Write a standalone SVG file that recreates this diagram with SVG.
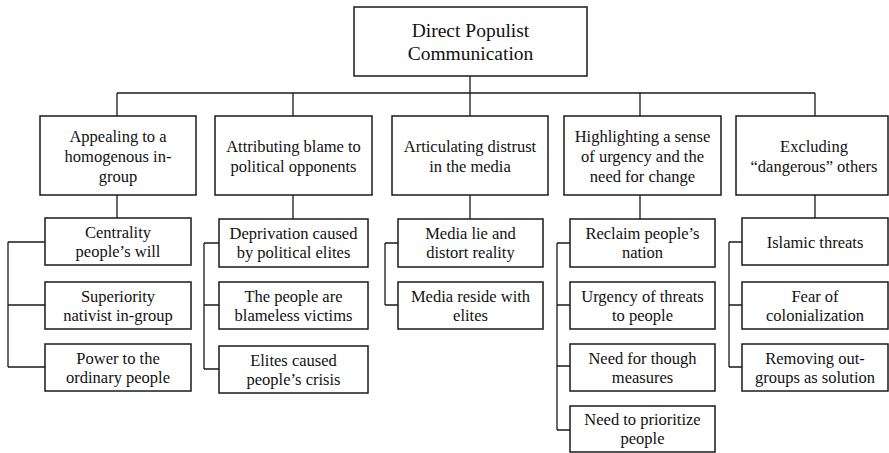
<svg xmlns="http://www.w3.org/2000/svg" width="889" height="453" viewBox="0 0 889 453">
<style>
rect{fill:#fff;stroke:#1a1a1a;stroke-width:1.5}
text{font-family:'Liberation Serif','Times New Roman','DejaVu Serif',serif;font-size:16.5px;fill:#111;text-anchor:middle}
.root text{font-size:19.5px}
#connectors path{fill:none;stroke:#1a1a1a;stroke-width:1.3}
</style>
<rect x="0" y="0" width="889" height="453" style="fill:#fff;stroke:none"/>
<g id="connectors">
<path d="M470,76V93M117,93H815M117,93V116M293,93V116M470,93V116M640,93V116M815,93V116"/>
<path d="M117,195V218M8,242H45M8,305H45M8,367H45M8,242V367"/>
<path d="M293,195V219M204,243H219M204,305H219M204,369H219M204,243V369"/>
<path d="M470,195V219M385,243H398M385,305H398M385,243V305"/>
<path d="M640,195V219M557,243H570M557,305H570M557,366H570M557,430H570M557,243V430"/>
<path d="M815,195V218M729,242H742M729,305H742M729,367H742M729,242V367"/>
</g>
<g font-family="Liberation Serif, serif">
<g id="root" class="root"><rect x="354" y="7" width="233" height="69"/><text x="470.5" y="37">Direct Populist</text><text x="470.5" y="60">Communication</text></g>
<g id="c1"><rect x="40" y="116" width="156" height="79"/><text x="118" y="142">Appealing to a</text><text x="118" y="162">homogenous in-</text><text x="118" y="182">group</text></g>
<g id="c2"><rect x="215" y="116" width="157" height="79"/><text x="293.5" y="152">Attributing blame to</text><text x="293.5" y="172">political  opponents</text></g>
<g id="c3"><rect x="392" y="116" width="156" height="79"/><text x="470" y="152">Articulating distrust</text><text x="470" y="172">in the media</text></g>
<g id="c4"><rect x="564" y="116" width="157" height="79"/><text x="642.5" y="142">Highlighting  a sense</text><text x="642.5" y="162">of urgency and the</text><text x="642.5" y="182">need for change</text></g>
<g id="c5"><rect x="736" y="116" width="152" height="79"/><text x="814" y="152">Excluding</text><text x="814" y="172">“dangerous” others</text></g>
<g id="c1a"><rect x="45" y="218" width="146" height="47"/><text x="118" y="238">Centrality</text><text x="118" y="257">people’s will</text></g>
<g id="c1b"><rect x="45" y="282" width="146" height="47"/><text x="118" y="302">Superiority</text><text x="118" y="321">nativist in-group</text></g>
<g id="c1c"><rect x="45" y="344" width="146" height="47"/><text x="118" y="364">Power to the</text><text x="118" y="383">ordinary people</text></g>
<g id="c2a"><rect x="219" y="219" width="149" height="48"/><text x="293.5" y="239">Deprivation caused</text><text x="293.5" y="258">by  political  elites</text></g>
<g id="c2b"><rect x="219" y="282" width="149" height="47"/><text x="293.5" y="302">The people are</text><text x="293.5" y="321">blameless victims</text></g>
<g id="c2c"><rect x="219" y="346" width="149" height="47"/><text x="293.5" y="366">Elites  caused</text><text x="293.5" y="385">people’s crisis</text></g>
<g id="c3a"><rect x="398" y="219" width="145" height="48"/><text x="470.5" y="239">Media lie and</text><text x="470.5" y="258">distort reality</text></g>
<g id="c3b"><rect x="398" y="282" width="145" height="47"/><text x="470.5" y="302">Media reside with</text><text x="470.5" y="321">elites</text></g>
<g id="c4a"><rect x="570" y="219" width="145" height="48"/><text x="642.5" y="239">Reclaim people’s</text><text x="642.5" y="258">nation</text></g>
<g id="c4b"><rect x="570" y="282" width="145" height="47"/><text x="642.5" y="302">Urgency of threats</text><text x="642.5" y="321">to people</text></g>
<g id="c4c"><rect x="570" y="344" width="145" height="47"/><text x="642.5" y="364">Need for though</text><text x="642.5" y="383">measures</text></g>
<g id="c4d"><rect x="570" y="406" width="145" height="46"/><text x="642.5" y="425">Need to prioritize</text><text x="642.5" y="444">people</text></g>
<g id="c5a"><rect x="742" y="218" width="146" height="47"/><text x="815" y="248">Islamic threats</text></g>
<g id="c5b"><rect x="742" y="282" width="146" height="47"/><text x="815" y="302">Fear of</text><text x="815" y="321">colonialization</text></g>
<g id="c5c"><rect x="742" y="344" width="146" height="47"/><text x="815" y="364">Removing out-</text><text x="815" y="383">groups as solution</text></g>
</g>
</svg>
